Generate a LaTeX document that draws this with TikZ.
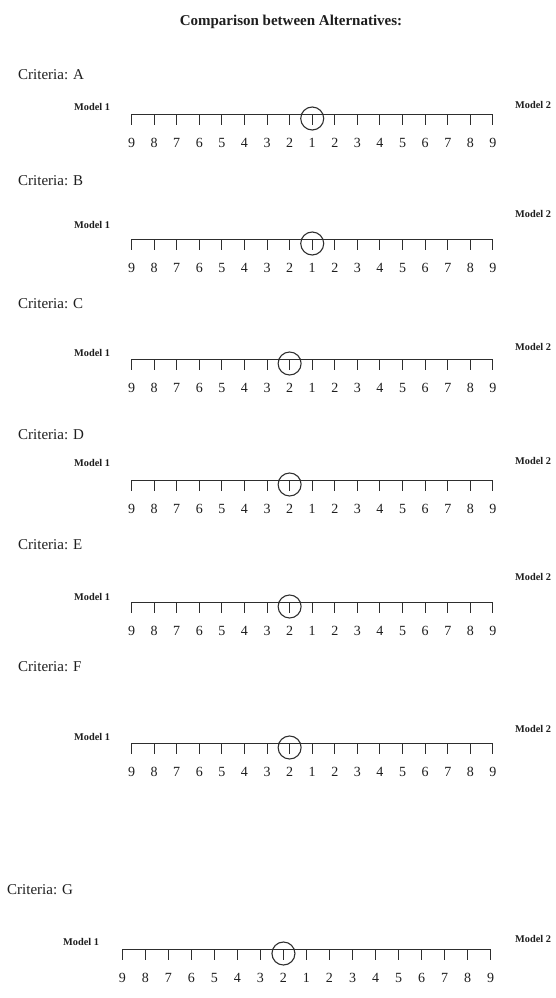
\documentclass[tikz,border=0pt]{standalone}
\usepackage{fontspec}
\setmainfont{Liberation Serif}
\definecolor{inkc}{HTML}{1E1E1E}
\definecolor{linec}{HTML}{2E2E2E}
\tikzset{
  titletext/.style={font=\fontsize{15}{17}\selectfont\bfseries, text=inkc, inner sep=0pt},
  crittext/.style={font=\fontsize{15}{17}\selectfont, text=inkc, inner sep=0pt, anchor=west},
  modeltext/.style={font=\fontsize{10.3}{12}\selectfont\bfseries, text=inkc, inner sep=0pt, anchor=west},
  digit/.style={font=\fontsize{14}{16}\selectfont, text=inkc, inner sep=0pt},
  scaleline/.style={draw=linec, line width=1pt},
  tickline/.style={draw=linec, line width=1pt},
  markcircle/.style={circle, draw=linec, line width=1.1pt, minimum size=23pt, inner sep=0pt},
}
% #1 name, #2 line y, #3 left x, #4 spacing, #5 circled index
\newcommand{\ratingscale}[5]{%
  \coordinate (#1-L) at (#3,#2);
  \coordinate (#1-R) at ({#3+16*#4},#2);
  \draw[scaleline] (#1-L) -- (#1-R);
  \foreach \i/\lab in {0/9,1/8,2/7,3/6,4/5,5/4,6/3,7/2,8/1,9/2,10/3,11/4,12/5,13/6,14/7,15/8,16/9}{
    \coordinate (#1-t\i) at ({#3+\i*#4},#2);
    \coordinate (#1-b\i) at ({#3+\i*#4},{#2+11});
    \draw[tickline] (#1-t\i) -- (#1-b\i);
    \node[digit] (#1-n\i) at ({#3+\i*#4},{#2+29}) {\lab};
  }
  \node[markcircle] (#1-c) at ({#3+#5*#4},{#2+4.5}) {};
}
\begin{document}
\begin{tikzpicture}[x=1pt,y=-1pt]
\useasboundingbox (0,0) rectangle (555,998);
\node[titletext] (title) at (291,22) {Comparison between Alternatives:};
% A
\node[crittext] (critA) at (18,75) {Criteria: A};
\node[modeltext] (mA1) at (74,107) {Model 1};
\node[modeltext] (mA2) at (515,105) {Model 2};
\ratingscale{A}{114}{131.5}{22.59}{8}
% B
\node[crittext] (critB) at (18,181) {Criteria: B};
\node[modeltext] (mB1) at (74,225) {Model 1};
\node[modeltext] (mB2) at (515,214) {Model 2};
\ratingscale{B}{239}{131.5}{22.59}{8}
% C
\node[crittext] (critC) at (18,304) {Criteria: C};
\node[modeltext] (mC1) at (74,353) {Model 1};
\node[modeltext] (mC2) at (515,347) {Model 2};
\ratingscale{C}{359}{131.5}{22.59}{7}
% D
\node[crittext] (critD) at (18,435) {Criteria: D};
\node[modeltext] (mD1) at (74,463) {Model 1};
\node[modeltext] (mD2) at (515,461) {Model 2};
\ratingscale{D}{480}{131.5}{22.59}{7}
% E
\node[crittext] (critE) at (18,545) {Criteria: E};
\node[modeltext] (mE1) at (74,597) {Model 1};
\node[modeltext] (mE2) at (515,577) {Model 2};
\ratingscale{E}{602}{131.5}{22.59}{7}
% F
\node[crittext] (critF) at (18,667) {Criteria: F};
\node[modeltext] (mF1) at (74,737) {Model 1};
\node[modeltext] (mF2) at (515,729) {Model 2};
\ratingscale{F}{743}{131.5}{22.59}{7}
% G
\node[crittext] (critG) at (7,890) {Criteria: G};
\node[modeltext] (mG1) at (63,942) {Model 1};
\node[modeltext] (mG2) at (515,939) {Model 2};
\ratingscale{G}{949}{122.3}{23.02}{7}
\end{tikzpicture}
\end{document}
